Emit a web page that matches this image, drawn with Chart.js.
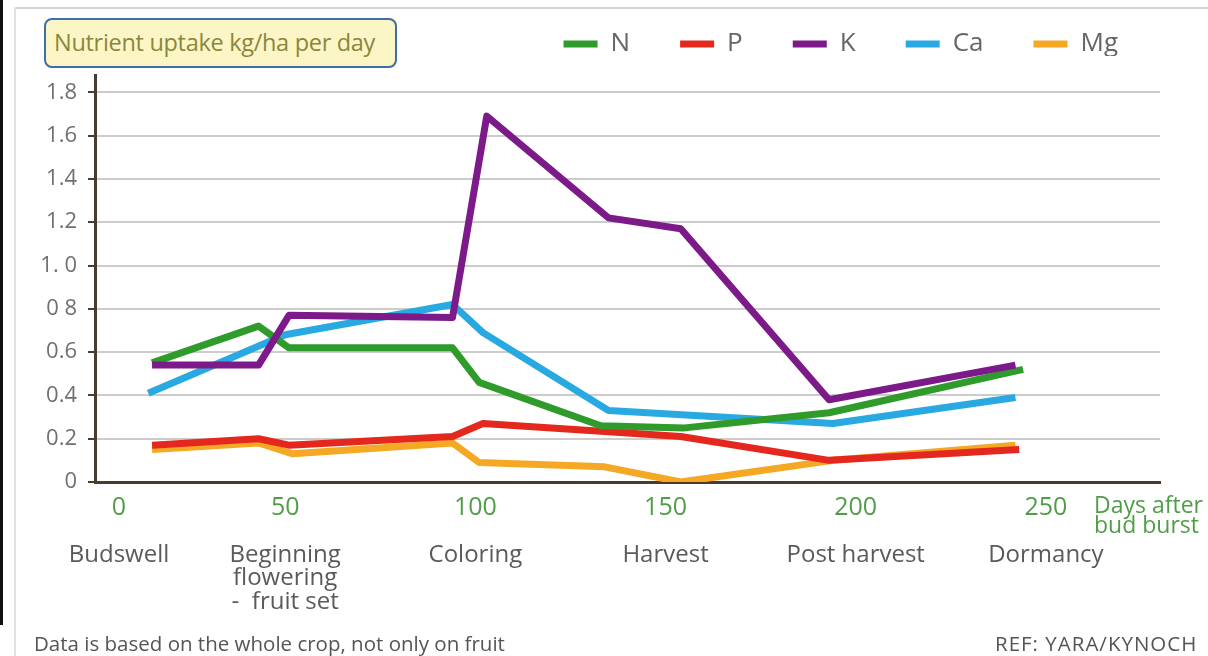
<!DOCTYPE html>
<html>
<head>
<meta charset="utf-8">
<script src="https://cdn.jsdelivr.net/npm/chart.js@4"></script>
<style>
  body { margin: 0; background: #fff; }
  #wrap { position: relative; width: 1208px; height: 656px; overflow: hidden; background: #fff; font-family: "Open Sans", sans-serif; }
  #chart { position: absolute; left: 0; top: 0; }
  .frameTop { position: absolute; left: 14px; top: 7px; width: 1194px; height: 2px; background: #d4d4d4; }
  .frameLeft { position: absolute; left: 14px; top: 7px; width: 2px; height: 649px; background: #e2e2e2; }
  .edge { position: absolute; left: 0; top: 0; width: 3px; height: 625px; background: #111; }
  .titleBox { position: absolute; left: 44px; top: 18px; width: 353px; height: 50px; box-sizing: border-box;
    border: 2px solid #3f6ea3; border-radius: 8px; background: #fcf6c6; color: #8a873c;
    font-size: 23.5px; line-height: 45px; padding-left: 8px; white-space: nowrap; letter-spacing: -0.3px; }
  .daysNote { position: absolute; left: 1094px; top: 494px; color: #4f9d47; font-size: 23px; line-height: 20px; white-space: nowrap; }
  .footLeft { position: absolute; left: 34px; top: 629px; color: #555; font-size: 20.5px; white-space: nowrap; }
  .footRight { position: absolute; left: 995px; top: 629px; color: #555; font-size: 20.5px; letter-spacing: 1px; white-space: nowrap; }
</style>
</head>
<body>
<div id="wrap">
  <canvas id="chart" width="1208" height="656"></canvas>
  <div class="frameTop"></div>
  <div class="frameLeft"></div>
  <div class="edge"></div>
  <div class="titleBox">Nutrient uptake kg/ha per day</div>
  <div class="daysNote">Days after<br>bud burst</div>
  <div class="footLeft">Data is based on the whole crop, not only on fruit</div>
  <div class="footRight">REF: YARA/KYNOCH</div>
</div>
<script>
// values (x = days after bud burst, y = kg/ha per day)
const nDays = [15, 43, 51, 94, 101, 133, 155, 193, 244];
const nUptake = [0.55, 0.72, 0.62, 0.62, 0.46, 0.26, 0.25, 0.32, 0.52];

const pDays = [15, 43, 51, 94, 102, 154, 193, 243];
const pUptake = [0.17, 0.2, 0.17, 0.21, 0.27, 0.21, 0.1, 0.15];

const kDays = [15, 43, 51, 94, 103, 135, 154, 193, 242];
const kUptake = [0.54, 0.54, 0.77, 0.76, 1.69, 1.22, 1.17, 0.38, 0.54];

const caDays = [14, 50, 94, 102, 135, 194, 242];
const caUptake = [0.41, 0.68, 0.82, 0.69, 0.33, 0.27, 0.39];

const mgDays = [15, 43, 52, 94, 101, 134, 154, 194, 242];
const mgUptake = [0.15, 0.18, 0.13, 0.18, 0.09, 0.07, 0.0, 0.1, 0.17];

const yTickLabels = ['0', '0.2', '0.4', '0.6', '0 8', '1. 0', '1.2', '1.4', '1.6', '1.8'];
const dayTickLabels = ['0', '50', '100', '150', '200', '250'];
const stageLabels = ['Budswell', ['Beginning', 'flowering', '-  fruit set'], 'Coloring', 'Harvest', 'Post harvest', 'Dormancy'];

const toPoints = (days, vals) => days.map((d, i) => ({ x: d, y: vals[i] }));

function series(label, days, vals, color, order) {
    return {
        label: label,
        data: toPoints(days, vals),
        borderColor: color,
        backgroundColor: color,
        borderWidth: 7,
        borderJoinStyle: 'round',
        pointRadius: 0,
        pointStyle: 'line',
        tension: 0,
        order: order
    };
}

// the first tick sits right of the y axis in the original
const shiftFirstLabel = {
    id: 'shiftFirstLabel',
    beforeDraw(chart) {
        ['x', 'x2'].forEach(id => {
            const items = chart.scales[id].getLabelItems();
            if (items.length && !items[0].shifted) {
                items[0].options.translation[0] += 24;
                items[0].shifted = true;
            }
        });
    }
};

// move legend row up/right to where it is in the picture
const legendNudge = {
    id: 'legendNudge',
    afterLayout(chart) {
        const lg = chart.legend;
        lg.top -= 19; lg.bottom -= 19;
        lg.right += 8;
    }
};

const axisColor = '#4a3c2c';
const font = 'Open Sans';

new Chart(document.getElementById('chart').getContext('2d'), {
    type: 'line',
    data: {
        datasets: [
            series('N', nDays, nUptake, '#2f9b2b', 2),
            series('P', pDays, pUptake, '#e5281d', 4),
            series('K', kDays, kUptake, '#7b1a88', 1),
            series('Ca', caDays, caUptake, '#29a9e1', 3),
            series('Mg', mgDays, mgUptake, '#f4a824', 5)
        ]
    },
    options: {
        responsive: false,
        animation: false,
        events: [],
        layout: { padding: { left: 0, right: 48, top: 0, bottom: 0 } },
        plugins: {
            tooltip: { enabled: false },
            legend: {
                position: 'top',
                align: 'end',
                maxHeight: 75,
                labels: {
                    usePointStyle: true,
                    pointStyle: 'line',
                    pointStyleWidth: 34,
                    boxHeight: 6,
                    padding: 50,
                    color: '#666',
                    font: { family: font, size: 26 },
                    sort: (a, b) => a.datasetIndex - b.datasetIndex
                }
            }
        },
        scales: {
            x: {
                type: 'linear',
                position: 'bottom',
                min: 0,
                max: 280,
                afterFit: s => { s.height = 40; },
                grid: { display: false, drawTicks: false },
                border: { display: true, color: axisColor, width: 3 },
                ticks: {
                    stepSize: 50,
                    includeBounds: false,
                    autoSkip: false,
                    maxRotation: 0,
                    minRotation: 0,
                    padding: 11,
                    color: '#4f9d47',
                    font: { family: font, size: 25 },
                    callback: (v, i) => dayTickLabels[i]
                }
            },
            x2: {
                type: 'linear',
                position: 'bottom',
                min: 0,
                max: 280,
                afterFit: s => { s.height = 134; },
                grid: { display: false, drawTicks: false },
                border: { display: false },
                ticks: {
                    stepSize: 50,
                    includeBounds: false,
                    autoSkip: false,
                    maxRotation: 0,
                    minRotation: 0,
                    padding: 21,
                    color: '#5a5a5a',
                    font: { family: font, size: 24, lineHeight: 0.98 },
                    callback: (v, i) => stageLabels[i]
                }
            },
            y: {
                min: 0,
                max: 1.88,
                afterFit: s => { s.width = 95; },
                grid: { color: '#cccccc', lineWidth: 2, tickLength: 7, tickColor: axisColor },
                border: { display: true, color: axisColor, width: 3 },
                ticks: {
                    stepSize: 0.2,
                    includeBounds: false,
                    padding: 11,
                    color: '#707070',
                    font: { family: font, size: 22 },
                    callback: (v, i) => yTickLabels[i]
                }
            }
        }
    },
    plugins: [shiftFirstLabel, legendNudge]
});
</script>
</body>
</html>
